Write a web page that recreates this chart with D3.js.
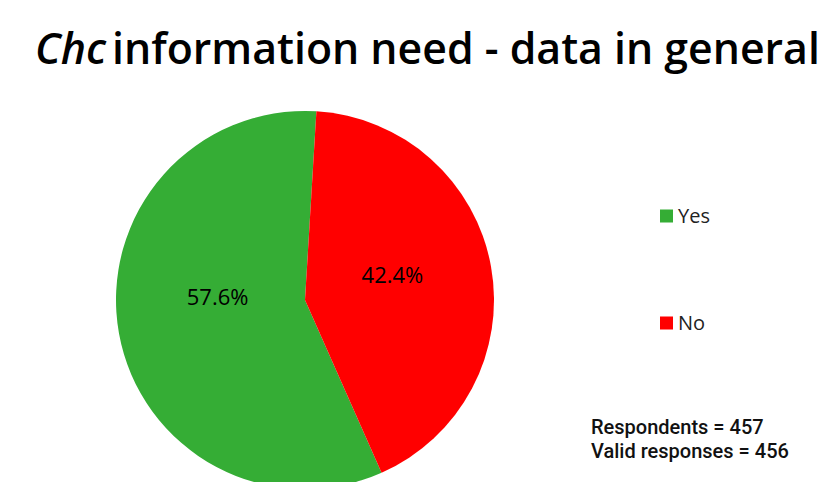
<!DOCTYPE html>
<html>
<head>
	<meta charset="utf-8">
	<title>Chc information need</title>
	<script src="https://cdn.jsdelivr.net/npm/d3@7"></script>
	<style type="text/css">
		body { margin: 0; background: white; }
		text { font-family: "Open Sans", sans-serif; }
		.note { font-family: Roboto, sans-serif; }
	</style>
</head>
<body>
	<script type="text/javascript">
		var categories = ["Yes", "No"],
			percents = [57.6, 42.4],
			colorList = ["#35ad35", "#ff0000"],
			notes = ["Respondents = 457", "Valid responses = 456"];

		var width = 822,
			height = 482,
			cx = 305,
			cy = 300,
			radius = 189;

		var svg = d3.select("body")
					.append("svg")
					.attr("width", width)
					.attr("height", height);

		// title, first word in italics
		var title = svg.append("text")
			.attr("x", 35)
			.attr("y", 64)
			.attr("font-size", 44)
			.attr("font-weight", 600)
			.attr("fill", "#000");
		title.append("tspan").attr("font-style", "italic").text("Chc");
		title.append("tspan").attr("dx", 6).text("information need - data in general");
		// fit it to the width of the original
		var tw = title.node().getComputedTextLength();
		title.attr("font-size", 44 * 779 / tw);

		var colors = d3.scaleOrdinal().domain(categories).range(colorList);

		var pie = d3.pie()
			.sort(null)
			.value(function (d) { return d.value; })
			.startAngle(156.1 * Math.PI / 180)
			.endAngle(156.1 * Math.PI / 180 + 2 * Math.PI);

		var data = categories.map(function (c, i) {
			return { key: c, value: percents[i] };
		});
		var arcs = pie(data);

		var arc = d3.arc().innerRadius(0).outerRadius(radius);
		var labelArc = d3.arc().innerRadius(radius * 0.47).outerRadius(radius * 0.47);

		var g = svg.append("g")
			.attr("transform", "translate(" + cx + "," + cy + ")");

		g.selectAll("path")
			.data(arcs)
			.enter()
			.append("path")
			.attr("d", arc)
			.attr("fill", function (d) { return colors(d.data.key); });

		g.selectAll("text")
			.data(arcs)
			.enter()
			.append("text")
			.attr("transform", function (d) {
				var c = labelArc.centroid(d);
				// excel's best fit puts the big label a bit higher
				var shift = d.data.key == "Yes" ? -18 : -9;
				return "translate(" + c[0] + "," + (c[1] + shift) + ")";
			})
			.attr("text-anchor", "middle")
			.attr("dy", "0.35em")
			.attr("font-size", 22)
			.attr("fill", "#000")
			.text(function (d) { return d.data.value.toFixed(1) + "%"; });

		// legend
		var legendY = d3.scalePoint().domain(categories).range([216, 323]);
		var legend = svg.append("g");
		legend.selectAll("rect")
			.data(categories)
			.enter()
			.append("rect")
			.attr("x", 660)
			.attr("y", function (d) { return legendY(d) - 6.5; })
			.attr("width", 13)
			.attr("height", 13)
			.attr("fill", function (d) { return colors(d); });
		legend.selectAll("text")
			.data(categories)
			.enter()
			.append("text")
			.attr("x", 678)
			.attr("y", function (d) { return legendY(d) + 7; })
			.attr("font-size", 20)
			.attr("fill", "#222")
			.text(function (d) { return d; });

		// respondents note
		svg.append("g").selectAll("text")
			.data(notes)
			.enter()
			.append("text")
			.attr("class", "note")
			.attr("x", 591)
			.attr("y", function (d, i) { return 434 + i * 23.5; })
			.attr("font-size", 20)
			.attr("font-weight", 500)
			.attr("fill", "#111")
			.text(function (d) { return d; });
	</script>
</body>
</html>
